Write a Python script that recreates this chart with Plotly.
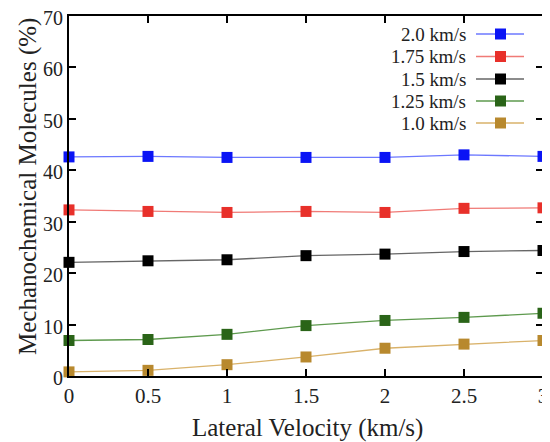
import plotly.graph_objects as go

lateral_velocity = [0, 0.5, 1, 1.5, 2, 2.5, 3]
series_names = ["2.0 km/s", "1.75 km/s", "1.5 km/s", "1.25 km/s", "1.0 km/s"]
v_2_0 = [42.6, 42.7, 42.5, 42.5, 42.5, 43.0, 42.7]
v_1_75 = [32.3, 32.0, 31.8, 32.0, 31.8, 32.6, 32.7]
v_1_5 = [22.1, 22.4, 22.6, 23.4, 23.7, 24.2, 24.4]
v_1_25 = [6.9, 7.1, 8.1, 9.8, 10.8, 11.4, 12.2]
v_1_0 = [0.8, 1.1, 2.2, 3.7, 5.4, 6.2, 6.9]
series_values = [v_2_0, v_1_75, v_1_5, v_1_25, v_1_0]
x_tick_text = ["0", "0.5", "1", "1.5", "2", "2.5", "3"]

marker_colors = ["#0a14f5", "#e8302a", "#000000", "#2a6418", "#b8892e"]
line_colors = ["#6c78ff", "#f07a76", "#666666", "#5e9a4e", "#d9b26a"]

font_family = "Liberation Serif, Times New Roman, serif"

fig = go.Figure()
for name, vals, mc, lc in zip(series_names, series_values, marker_colors, line_colors):
    fig.add_trace(go.Scatter(
        x=lateral_velocity, y=vals, name=name, mode="lines+markers",
        line=dict(color=lc, width=1.3),
        marker=dict(symbol="square", size=11, color=mc),
        showlegend=False, cliponaxis=False,
    ))

# page-pixel helpers (plot area in page pixels) -> paper coordinates
x0, x1 = 69, 543
y0, y1 = 16, 376
W = x1 - x0
H = y1 - y0
def px(x):
    return (x - x0) / W
def py(y):
    return (y1 - y) / H

# custom legend (text right-aligned, sample on the right)
rows_y = [34, 56.5, 79, 101, 123]
for name, mc, lc, ry in zip(series_names, marker_colors, line_colors, rows_y):
    fig.add_annotation(x=px(468), y=py(ry), xref="paper", yref="paper",
                       text=name, showarrow=False, xanchor="right", yanchor="middle",
                       font=dict(family=font_family, size=19, color="#222"))
    fig.add_shape(type="line", xref="paper", yref="paper",
                  x0=px(476), x1=px(524), y0=py(ry), y1=py(ry),
                  line=dict(color=lc, width=1.3))
    fig.add_shape(type="rect", xref="paper", yref="paper",
                  x0=px(495), x1=px(506), y0=py(ry - 5.5), y1=py(ry + 5.5),
                  line=dict(width=0), fillcolor=mc)

# axis titles as annotations for exact placement
fig.add_annotation(x=px(307), y=py(428), xref="paper", yref="paper",
                   text="Lateral Velocity (km/s)", showarrow=False,
                   xanchor="center", yanchor="middle",
                   font=dict(family=font_family, size=25, color="#222"))
fig.add_annotation(x=px(28), y=py(187), xref="paper", yref="paper",
                   text="Mechanochemical Molecules (%)", showarrow=False,
                   textangle=-90, xanchor="center", yanchor="middle",
                   font=dict(family=font_family, size=25, color="#222"))

axis_common = dict(
    showline=True, linecolor="black", linewidth=2, mirror="ticks",
    ticks="inside", ticklen=7, tickwidth=2, tickcolor="black",
    showgrid=False, zeroline=False, ticklabeloverflow="allow",
    automargin=False,
)

fig.update_xaxes(range=[0, 3], tickvals=lateral_velocity, ticktext=x_tick_text,
                 tickfont=dict(family=font_family, size=21, color="#222"),
                 **axis_common)
fig.update_yaxes(range=[0, 70], dtick=10, ticklabelshift=2,
                 tickfont=dict(family=font_family, size=20, color="#222"),
                 **axis_common)

# the page body adds an 8px offset, so the figure is sized to compensate
fig.update_layout(
    width=542, height=434,
    margin=dict(l=61, r=7, t=8, b=66),
    plot_bgcolor="white", paper_bgcolor="white",
    font=dict(family=font_family),
)

fig.write_html("out.html")
